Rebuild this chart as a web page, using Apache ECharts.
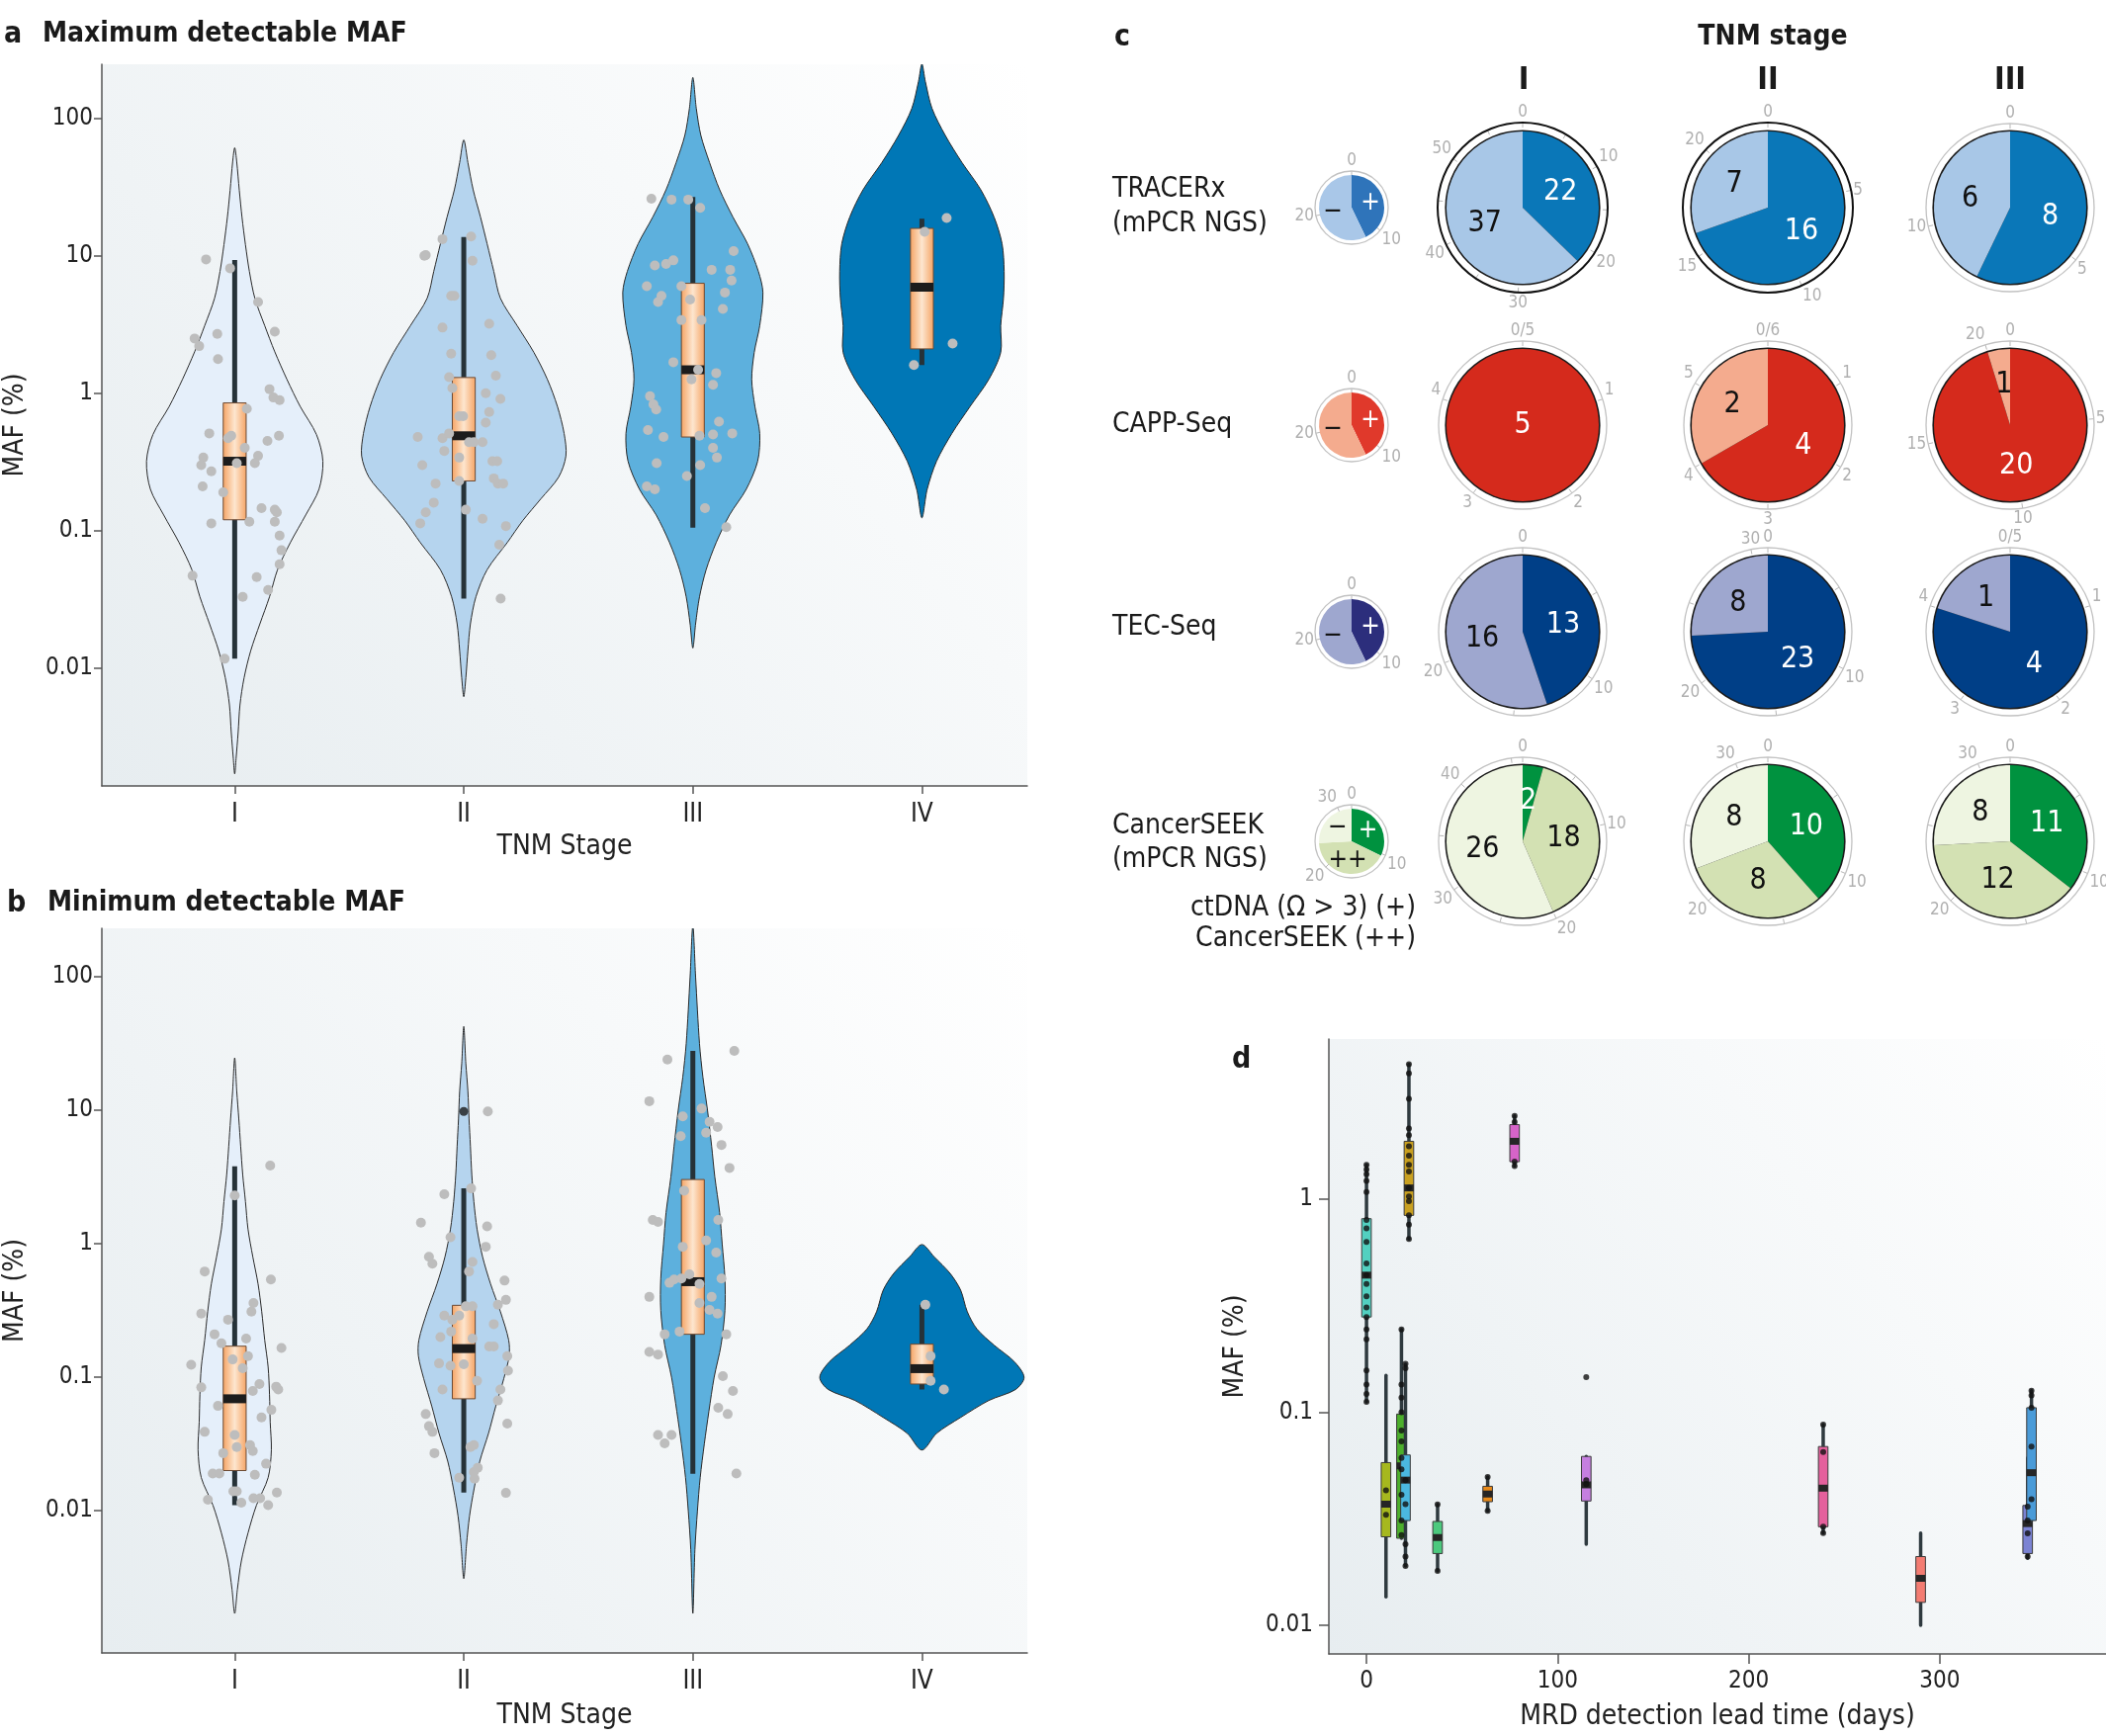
<!DOCTYPE html>
<html>
<head>
<meta charset="utf-8">
<script src="https://cdn.jsdelivr.net/npm/echarts@6/dist/echarts.min.js"></script>
<style>
  html, body { margin: 0; padding: 0; background: #fff; }
  #main { width: 2130px; height: 1756px; }
</style>
</head>
<body>
<div id="main"></div>
<script>
const FONT = '"Liberation Sans Narrow", "DejaVu Sans Condensed", sans-serif';
const BOLD = '"DejaVu Sans Condensed", "DejaVu Sans", sans-serif';
const L = Math.log10;

// ---------- panels a / b : MAF by TNM stage ----------
const stages = ['I', 'II', 'III', 'IV'];
const mafTicks = [0.01, 0.1, 1, 10, 100];

// violin outlines, [MAF %, half width in stage units], top to bottom
const violinMaxI = [[61,0],[48,0.009],[30,0.02],[19,0.032],[12,0.047],[7.7,0.064],[4.9,0.088],[3.1,0.131],[2.0,0.175],[1.26,0.228],[0.8,0.286],[0.5,0.357],[0.32,0.385],[0.2,0.368],[0.13,0.31],[0.082,0.243],[0.052,0.187],[0.033,0.152],[0.021,0.11],[0.0134,0.07],[0.0085,0.041],[0.0054,0.023],[0.0034,0.015],[0.0022,0.006],[0.0017,0]];
const violinMaxII = [[69.5,0],[47.6,0.018],[30.2,0.041],[19.1,0.073],[12.2,0.102],[7.7,0.131],[4.9,0.16],[3.1,0.233],[1.98,0.306],[1.26,0.365],[0.8,0.409],[0.51,0.438],[0.35,0.446],[0.245,0.414],[0.17,0.336],[0.118,0.257],[0.082,0.19],[0.052,0.102],[0.033,0.053],[0.021,0.029],[0.0134,0.018],[0.0085,0.009],[0.0062,0]];
const violinMaxIII = [[198,0],[118,0.015],[75,0.035],[47.6,0.073],[30.2,0.117],[19.1,0.175],[12.2,0.239],[7.7,0.286],[5.4,0.306],[3.1,0.292],[1.98,0.268],[1.26,0.257],[0.8,0.271],[0.51,0.292],[0.32,0.283],[0.2,0.233],[0.13,0.16],[0.082,0.102],[0.052,0.058],[0.033,0.029],[0.021,0.012],[0.014,0]];
const violinMaxIV = [[248,0],[185,0.015],[118,0.044],[75,0.102],[47.6,0.175],[30.2,0.257],[19.1,0.315],[12.2,0.35],[7.7,0.359],[4.9,0.356],[3.1,0.344],[1.98,0.344],[1.26,0.292],[0.8,0.21],[0.51,0.131],[0.32,0.064],[0.2,0.023],[0.124,0]];

const violinMinI = [[24.7,0],[13.9,0.009],[8.6,0.018],[5.4,0.026],[3.3,0.035],[2.07,0.047],[1.29,0.058],[0.8,0.079],[0.5,0.102],[0.31,0.118],[0.19,0.131],[0.119,0.146],[0.074,0.152],[0.046,0.155],[0.0285,0.16],[0.0177,0.146],[0.011,0.095],[0.0068,0.058],[0.0042,0.029],[0.0026,0.012],[0.0017,0]];
const violinMinII = [[42.5,0],[22.4,0.009],[13.9,0.018],[8.6,0.023],[5.4,0.029],[3.3,0.035],[2.07,0.044],[1.29,0.058],[0.8,0.082],[0.5,0.117],[0.31,0.16],[0.19,0.196],[0.144,0.198],[0.098,0.175],[0.061,0.14],[0.038,0.108],[0.0235,0.07],[0.0146,0.045],[0.0091,0.025],[0.0056,0.012],[0.0031,0]];
const violinMinIII = [[243,0],[100,0.012],[31.6,0.029],[17.7,0.044],[10,0.064],[5.4,0.082],[3.16,0.096],[1.71,0.117],[1,0.128],[0.55,0.14],[0.316,0.14],[0.174,0.123],[0.1,0.093],[0.0555,0.07],[0.0316,0.05],[0.0177,0.032],[0.01,0.02],[0.0051,0.009],[0.0017,0]];
const violinMinIV = [[0.987,0],[0.8,0.053],[0.6,0.123],[0.45,0.169],[0.31,0.198],[0.23,0.24],[0.174,0.315],[0.131,0.403],[0.1,0.446],[0.081,0.409],[0.067,0.292],[0.05,0.169],[0.038,0.064],[0.0285,0]];

// box plots [low whisker, q1, median, q3, high whisker]
const boxMax = [[0.0117,0.12,0.32,0.85,9.3],[0.032,0.23,0.49,1.3,13.7],[0.105,0.48,1.48,6.3,26.8],[1.6,2.1,5.9,15.8,18.6]];
const boxMin = [[0.011,0.020,0.069,0.171,3.8],[0.0137,0.069,0.164,0.346,2.6],[0.0189,0.21,0.52,3.03,27.9],[0.081,0.089,0.116,0.177,0.35]];
const outliersMin = [[2, 9.8]];

// jittered patients [offset from stage, MAF %]
const jitMaxI = [[-0.125,9.4],[-0.02,8.1],[0.102,4.6],[-0.175,2.5],[-0.155,2.2],[-0.076,2.7],[0.175,2.8],[-0.073,1.77],[0.152,1.07],[0.169,0.93],[0.196,0.89],[0.053,0.77],[-0.111,0.51],[-0.029,0.47],[-0.015,0.49],[0.143,0.45],[0.193,0.49],[-0.137,0.34],[-0.146,0.30],[-0.102,0.27],[0.102,0.35],[0.044,0.40],[0.009,0.31],[0.088,0.31],[-0.14,0.21],[-0.05,0.19],[-0.102,0.113],[0.064,0.116],[0.117,0.146],[0.175,0.142],[0.184,0.136],[0.175,0.116],[0.196,0.092],[0.204,0.072],[0.196,0.057],[-0.184,0.047],[0.096,0.046],[0.146,0.037],[0.035,0.033],[-0.044,0.0117]];
const jitMaxII = [[-0.166,10.1],[-0.172,10],[-0.093,13.2],[0.032,13.8],[0.038,9.2],[-0.055,5.1],[-0.041,5.1],[-0.093,3.0],[0.111,3.2],[-0.055,1.94],[0.12,1.89],[-0.064,1.31],[0.14,1.34],[-0.05,1.09],[0.16,0.91],[0.096,1.0],[0.111,0.73],[-0.003,0.68],[-0.02,0.68],[0.096,0.61],[-0.201,0.48],[-0.093,0.47],[-0.064,0.51],[0.023,0.44],[0.044,0.44],[0.082,0.44],[-0.085,0.38],[-0.02,0.34],[0.125,0.32],[0.146,0.32],[-0.181,0.30],[-0.123,0.22],[-0.02,0.23],[0.131,0.24],[0.149,0.22],[0.172,0.22],[0.009,0.142],[-0.166,0.136],[-0.131,0.16],[0.082,0.122],[-0.19,0.113],[0.184,0.108],[0.155,0.079],[0.161,0.032]];
const jitMaxIII = [[-0.181,26],[-0.093,25.6],[-0.02,25.6],[0.032,22.3],[0.178,10.8],[-0.166,8.5],[-0.117,8.7],[-0.085,9.25],[0.082,7.9],[0.163,7.9],[0.169,6.6],[-0.201,6.0],[-0.137,5.1],[-0.152,4.6],[-0.05,6.0],[-0.012,4.8],[0.14,5.4],[0.131,4.1],[-0.05,3.4],[0.038,3.4],[-0.085,1.68],[0.023,1.48],[0.102,1.40],[-0.006,1.26],[0.088,1.15],[-0.187,0.95],[-0.172,0.83],[-0.16,0.76],[0.114,0.62],[-0.196,0.54],[-0.128,0.48],[0.029,0.49],[0.088,0.50],[0.172,0.51],[0.088,0.40],[0.105,0.34],[0.032,0.30],[-0.158,0.31],[-0.026,0.25],[-0.201,0.21],[-0.166,0.20],[0.053,0.146],[0.146,0.106]];
const jitMaxIV = [[0.108,18.8],[0.012,14.9],[0.134,2.3],[-0.035,1.6]];

const jitMinI = [[0.155,3.85],[0,2.3],[-0.131,0.62],[0.158,0.54],[-0.146,0.30],[-0.029,0.27],[0.082,0.36],[0.073,0.31],[-0.088,0.21],[-0.058,0.18],[0.05,0.195],[0.204,0.166],[-0.19,0.124],[-0.009,0.136],[0.035,0.117],[0.058,0.144],[-0.146,0.084],[0.108,0.089],[0.181,0.085],[0.19,0.081],[0.079,0.079],[-0.073,0.061],[0.16,0.057],[0.117,0.050],[-0.131,0.039],[0,0.037],[-0.05,0.027],[0.009,0.030],[0.067,0.031],[0.079,0.028],[0.137,0.0225],[-0.096,0.019],[-0.067,0.019],[0.088,0.0186],[-0.006,0.014],[0.009,0.014],[0.184,0.0137],[-0.117,0.0121],[0.029,0.0115],[0.082,0.0124],[0.111,0.0124],[0.146,0.011]];
const jitMinII = [[0.105,9.8],[0.032,2.6],[-0.085,2.35],[-0.187,1.44],[0.102,1.35],[-0.058,1.12],[0.096,0.95],[-0.152,0.80],[-0.137,0.71],[0.038,0.73],[0.023,0.62],[0.178,0.53],[0.184,0.38],[0.149,0.35],[0.009,0.34],[0.038,0.34],[-0.085,0.29],[-0.05,0.27],[-0.02,0.29],[0.131,0.25],[-0.102,0.20],[-0.055,0.22],[0.038,0.195],[0.111,0.17],[0.131,0.17],[0.19,0.144],[-0.108,0.127],[-0.058,0.122],[0,0.125],[0.193,0.112],[0.058,0.094],[-0.093,0.081],[0.16,0.081],[0.149,0.067],[-0.166,0.053],[-0.152,0.043],[-0.137,0.039],[0.19,0.045],[-0.128,0.027],[0.044,0.031],[0.029,0.030],[0.061,0.021],[0.044,0.0195],[-0.02,0.0177],[0.047,0.0174],[0.184,0.0136]];
const jitMinIII = [[0.181,27.9],[-0.111,24.0],[-0.19,11.7],[-0.044,9.0],[0.038,10.3],[0.073,8.2],[0.108,7.5],[-0.053,6.4],[0.058,6.8],[0.125,5.5],[0.16,3.7],[-0.038,2.5],[-0.175,1.51],[-0.152,1.46],[0.111,1.51],[-0.044,0.95],[0.058,1.06],[0.102,0.86],[-0.102,0.51],[-0.082,0.54],[-0.05,0.55],[-0.015,0.59],[0.029,0.50],[0.125,0.55],[-0.19,0.40],[0.082,0.40],[0.029,0.36],[0.073,0.32],[0.108,0.30],[-0.123,0.21],[-0.058,0.22],[0.146,0.21],[-0.19,0.155],[-0.152,0.148],[0.131,0.102],[0.175,0.079],[0.111,0.059],[0.152,0.053],[-0.152,0.037],[-0.093,0.037],[-0.123,0.032],[0.19,0.019]];
const jitMinIV = [[0.015,0.35],[0.038,0.144],[0.038,0.094],[0.096,0.081]];

const violinColors = ['#e5effa', '#b5d4ee', '#5db0dd', '#0077b6'];

// ---------- panel c : detection pies ----------
const methods = ['TRACERx', 'CAPP-Seq', 'TEC-Seq', 'CancerSEEK'];
// per row: [legend, stage I, stage II, stage III]; slices clockwise: +, (++), -
const pieValues = [
  [[12, 16], [22, 37], [16, 7], [8, 6]],
  [[12, 16], [5, 0], [4, 2], [20, 1]],
  [[12, 16], [13, 16], [23, 8], [4, 1]],
  [[10, 13, 8], [2, 18, 26], [10, 8, 8], [11, 12, 8]]
];
const ringMax = [[28, 59, 23, 14], [28, 5, 6, 21], [28, 29, 31, 5], [32, 46, 32, 32]];
const ringStep = [[10, 10, 5, 5], [10, 1, 1, 5], [10, 10, 10, 1], [10, 10, 10, 10]];
const legendSymbols = [['+', '\u2212'], ['+', '\u2212'], ['+', '\u2212'], ['+', '++', '\u2212']];
const pieColors = [['#0a77b8', '#a8c7e7'], ['#d52a1c', '#f4ab8e'], ['#003f87', '#9ea7cf'], ['#00923f', '#d3e1b3', '#eef5e1']];
const legendColors = [['#2f74ba', '#a9c7e8'], ['#e0392b', '#f4ab8e'], ['#2c2e7c', '#9ea7cf'], ['#00923f', '#d3e1b3', '#eef5e1']];

// ---------- panel d : MRD lead time ----------
const leadTicks = [0, 100, 200, 300];
const leadDays = [0, 10.2, 18.3, 20.4, 22.2, 37.2, 63.4, 77.5, 115, 239, 290, 346, 348];
const leadBoxes = [[0.112,0.28,0.44,0.81,1.45],[0.0136,0.026,0.037,0.058,0.149],[0.0256,0.0256,0.056,0.098,0.245],[0.019,0.031,0.048,0.063,0.168],[0.65,0.84,1.13,1.87,4.3],[0.018,0.0217,0.0258,0.0307,0.0369],[0.0344,0.038,0.0413,0.0449,0.0496],[1.43,1.5,1.87,2.24,2.46],[0.024,0.0383,0.0456,0.062,0.062],[0.0271,0.029,0.044,0.069,0.0875],[0.01,0.0128,0.0166,0.021,0.0271],[0.0206,0.0217,0.03,0.0365,0.061],[0.031,0.031,0.052,0.105,0.126]];
const leadDots = [
  [1.45,1.38,1.31,1.22,1.08,0.80,0.73,0.63,0.50,0.44,0.40,0.35,0.31,0.28,0.245,0.22,0.157,0.135,0.122,0.112],
  [0.043,0.033],
  [0.245,0.135,0.117,0.1,0.082,0.073,0.061,0.054,0.041,0.031,0.0265],
  [0.169,0.161,0.048,0.037,0.024,0.021,0.019],
  [4.3,3.9,2.96,2.15,2.0,1.77,1.6,1.45,1.35,1.13,1.03,0.98,0.84,0.76,0.65],
  [0.0369,0.018],
  [0.0496,0.0344],
  [2.46,2.3,1.5,1.43],
  [0.048,0.046,0.146],
  [0.0875,0.065,0.029,0.0271],
  [],
  [0.036,0.031,0.027,0.021],
  [0.126,0.12,0.105,0.069,0.039]
];
const leadColors = ['#52d0c0','#a6b81e','#4caf2c','#4bb8e0','#c9a020','#4cc97e','#e88a1a','#d664c8','#c57fe0','#e4609c','#f47c72','#7b83d3','#4a9bd8'];

// ---------- helpers ----------
const bg = new echarts.graphic.LinearGradient(1, 0, 0, 1, [
  { offset: 0, color: '#ffffff' }, { offset: 1, color: '#e7edf0' }
]);
const boxFill = new echarts.graphic.LinearGradient(0, 0, 1, 0, [
  { offset: 0, color: '#f5a363' }, { offset: 0.5, color: '#fde6cf' }, { offset: 1, color: '#f5a363' }
]);

function gridBox(left, top, width, height) {
  return { left, top, width, height, show: true, backgroundColor: bg, borderWidth: 0, outerBoundsMode: 'none' };
}

function mafAxis(gridIndex, min, max, ticks, nameGap, margin, tickLen) {
  const vals = ticks.map(L);
  return {
    type: 'value', gridIndex, min: L(min), max: L(max),
    name: 'MAF (%)', nameLocation: 'middle', nameGap, nameRotate: 90,
    nameTextStyle: { fontSize: 28, color: '#222', fontFamily: FONT },
    axisLine: { show: true, onZero: false, lineStyle: { color: '#555', width: 1.5 } },
    axisTick: { show: true, length: tickLen, customValues: vals, lineStyle: { color: '#555', width: 1.5 } },
    axisLabel: { customValues: vals, margin, fontSize: 24, color: '#222', fontFamily: FONT,
      formatter: v => String(+Math.pow(10, v).toPrecision(2)) },
    splitLine: { show: false }
  };
}

function stageAxis(gridIndex, nameGap) {
  const vals = [1, 2, 3, 4];
  return {
    type: 'value', gridIndex, min: 0.42, max: 4.46,
    name: 'TNM Stage', nameLocation: 'middle', nameGap,
    nameTextStyle: { fontSize: 28, color: '#222', fontFamily: FONT },
    axisLine: { show: true, onZero: false, lineStyle: { color: '#555', width: 1.5 } },
    axisTick: { show: true, length: 8, customValues: vals, lineStyle: { color: '#555', width: 1.5 } },
    axisLabel: { customValues: vals, margin: 16, fontSize: 26, color: '#222', fontFamily: FONT,
      formatter: v => stages[v - 1] },
    splitLine: { show: false }
  };
}

function violinSeries(axis, profiles) {
  return {
    type: 'custom', xAxisIndex: axis, yAxisIndex: axis, clip: true, silent: true, z: 1,
    data: profiles.map((p, i) => [i + 1, 0]), encode: { x: 0, y: 1 },
    renderItem: (params, api) => {
      const i = params.dataIndex, x = i + 1, prof = profiles[i];
      const right = prof.map(([m, w]) => api.coord([x + w, L(m)]));
      const left = prof.slice(1, -1).reverse().map(([m, w]) => api.coord([x - w, L(m)]));
      return {
        type: 'polygon', shape: { points: right.concat(left), smooth: 0.3 },
        style: { fill: violinColors[i], stroke: '#2a2a2a', lineWidth: 1 }
      };
    }
  };
}

function stageBoxSeries(axis, boxes) {
  return {
    type: 'custom', xAxisIndex: axis, yAxisIndex: axis, clip: true, silent: true, z: 3,
    data: boxes.map((b, i) => [i + 1, L(b[2])]), encode: { x: 0, y: 1 },
    renderItem: (params, api) => {
      const i = params.dataIndex, x = i + 1, [lo, q1, med, q3, hi] = boxes[i], hw = 0.05;
      const a = api.coord([x, L(lo)]), b = api.coord([x, L(hi)]);
      const tl = api.coord([x - hw, L(q3)]), br = api.coord([x + hw, L(q1)]);
      const m1 = api.coord([x - hw, L(med)]), m2 = api.coord([x + hw, L(med)]);
      return { type: 'group', children: [
        { type: 'line', shape: { x1: a[0], y1: a[1], x2: b[0], y2: b[1] }, style: { stroke: '#263238', lineWidth: 5 } },
        { type: 'rect', shape: { x: tl[0], y: tl[1], width: br[0] - tl[0], height: br[1] - tl[1] }, style: { fill: boxFill, stroke: '#6b4a34', lineWidth: 1 } },
        { type: 'line', shape: { x1: m1[0], y1: m1[1], x2: m2[0], y2: m2[1] }, style: { stroke: '#1c1c1c', lineWidth: 9 } }
      ]};
    }
  };
}

function jitterSeries(axis, groups) {
  const data = [];
  groups.forEach((g, i) => g.forEach(([dx, m]) => data.push([i + 1 + dx, L(m)])));
  return {
    type: 'scatter', xAxisIndex: axis, yAxisIndex: axis, silent: true, z: 4,
    symbolSize: 10, itemStyle: { color: '#bdbdbd', opacity: 1 }, data
  };
}

// ---------- panel c build ----------
const colX = [1367, 1540, 1788, 2033];
const rowY = [210, 430, 639, 851];
const polar = [], angleAxis = [], radiusAxis = [], pieSeries = [];
methods.forEach((m, r) => {
  for (let c = 0; c < 4; c++) {
    const k = r * 4 + c, legend = c === 0;
    const blackRing = r === 0 && (c === 1 || c === 2);
    const R = legend ? 37 : (blackRing ? 86 : 85), pr = legend ? 33 : 77;
    const center = [colX[c], rowY[r]];
    const max = ringMax[r][c], step = ringStep[r][c];
    polar.push({ center, radius: [0, R] });
    angleAxis.push({
      polarIndex: k, type: 'value', min: 0, max, interval: step, startAngle: 90, clockwise: true, silent: true,
      axisLine: { show: true, lineStyle: { color: blackRing ? '#111' : '#c2c2c2', width: blackRing ? 2 : 1.3 } },
      axisTick: { show: true, inside: true, length: 5, lineStyle: { color: '#b8b8b8', width: 1 } },
      minorTick: { show: !legend && step === 10, splitNumber: 2, length: 5, lineStyle: { color: '#b8b8b8', width: 1 } },
      axisLabel: { show: true, margin: 2, color: '#b0b0b0', fontSize: 17, fontFamily: FONT,
        formatter: v => (v === 0 && max % step === 0) ? '0/' + max : String(v) },
      splitLine: { show: false }
    });
    radiusAxis.push({ polarIndex: k, type: 'value', min: 0, max: 1, show: false });
    if (!legend) {
      pieSeries.push({
        type: 'pie', center, radius: [0, pr + 1.6], silent: true, z: 2,
        label: { show: false }, labelLine: { show: false },
        itemStyle: { borderWidth: 0 }, data: [{ value: 1, itemStyle: { color: '#1b1b1b' } }]
      });
    }
    const vals = pieValues[r][c];
    const cols = legend ? legendColors[r] : pieColors[r];
    const data = [];
    vals.forEach((v, j) => {
      if (v <= 0) return;
      data.push({
        name: legend ? legendSymbols[r][j] : String(v), value: v,
        itemStyle: { color: cols[j] },
        label: { color: j === 0 ? '#ffffff' : '#111111' }
      });
    });
    if (data.length === 1) data[0].label.position = 'center';
    pieSeries.push({
      type: 'pie', center, radius: [0, pr], startAngle: 90, clockwise: true, silent: true, z: 3,
      avoidLabelOverlap: false,
      label: { show: true, position: 'inside', formatter: '{b}', fontSize: legend ? 26 : 30, fontFamily: FONT },
      labelLine: { show: false }, itemStyle: { borderWidth: 0 }, data
    });
  }
});

// ---------- panel d build ----------
const leadBoxSeries = {
  type: 'custom', xAxisIndex: 2, yAxisIndex: 2, clip: true, silent: true, z: 3,
  data: leadDays.map((d, i) => [d, L(leadBoxes[i][2])]), encode: { x: 0, y: 1 },
  renderItem: (params, api) => {
    const i = params.dataIndex, x = leadDays[i], [lo, q1, med, q3, hi] = leadBoxes[i], hw = 2.5;
    const a = api.coord([x, L(lo)]), b = api.coord([x, L(hi)]);
    const tl = api.coord([x - hw, L(q3)]), br = api.coord([x + hw, L(q1)]);
    const m1 = api.coord([x - hw, L(med)]), m2 = api.coord([x + hw, L(med)]);
    return { type: 'group', children: [
      { type: 'line', shape: { x1: a[0], y1: a[1], x2: b[0], y2: b[1] }, style: { stroke: '#2f3a3f', lineWidth: 3.5, lineCap: 'round' } },
      { type: 'rect', shape: { x: tl[0], y: tl[1], width: br[0] - tl[0], height: Math.max(br[1] - tl[1], 1) }, style: { fill: leadColors[i], stroke: '#3a3a3a', lineWidth: 1 } },
      { type: 'line', shape: { x1: m1[0], y1: m1[1], x2: m2[0], y2: m2[1] }, style: { stroke: '#262626', lineWidth: 7 } }
    ]};
  }
};
const leadDotData = [];
leadDots.forEach((g, i) => g.forEach(m => leadDotData.push([leadDays[i], L(m)])));

// ---------- text ----------
function txt(text, x, y, opts) {
  opts = opts || {};
  return { type: 'text', x, y, silent: true, z: 10, style: {
    text, fill: opts.fill || '#1a1a1a',
    font: (opts.bold ? 'bold ' : '') + (opts.size || 28) + 'px ' + (opts.bold ? BOLD : FONT),
    textAlign: opts.align || 'left', textVerticalAlign: 'middle'
  }};
}
const texts = [
  txt('a', 4, 35, { bold: true, size: 30 }),
  txt('Maximum detectable MAF', 43, 35, { bold: true, size: 28 }),
  txt('b', 7, 914, { bold: true, size: 30 }),
  txt('Minimum detectable MAF', 48, 914, { bold: true, size: 28 }),
  txt('c', 1127, 38, { bold: true, size: 30 }),
  txt('TNM stage', 1793, 38, { bold: true, size: 28, align: 'center' }),
  txt('I', 1541, 82, { bold: true, size: 32, align: 'center' }),
  txt('II', 1788, 82, { bold: true, size: 32, align: 'center' }),
  txt('III', 2033, 82, { bold: true, size: 32, align: 'center' }),
  txt('TRACERx', 1125, 192),
  txt('(mPCR NGS)', 1125, 227),
  txt('CAPP-Seq', 1125, 430),
  txt('TEC-Seq', 1125, 635),
  txt('CancerSEEK', 1125, 836),
  txt('(mPCR NGS)', 1125, 870),
  txt('ctDNA (\u03A9 > 3) (+)', 1432, 919, { align: 'right' }),
  txt('CancerSEEK (++)', 1432, 950, { align: 'right' }),
  txt('d', 1246, 1072, { bold: true, size: 30 })
];

const option = {
  animation: false,
  backgroundColor: '#ffffff',
  grid: [gridBox(103, 65, 936, 730), gridBox(103, 939, 936, 733), gridBox(1344, 1051, 786, 622)],
  xAxis: [
    stageAxis(0, 48),
    stageAxis(1, 50),
    {
      type: 'value', gridIndex: 2, min: -19.7, max: 387,
      name: 'MRD detection lead time (days)', nameLocation: 'middle', nameGap: 50,
      nameTextStyle: { fontSize: 28, color: '#222', fontFamily: FONT },
      axisLine: { show: true, onZero: false, lineStyle: { color: '#555', width: 1.5 } },
      axisTick: { show: true, length: 10, customValues: leadTicks, lineStyle: { color: '#555', width: 1.5 } },
      axisLabel: { customValues: leadTicks, margin: 16, fontSize: 24, color: '#222', fontFamily: FONT },
      splitLine: { show: false }
    }
  ],
  yAxis: [
    mafAxis(0, 0.00139, 247, mafTicks, 73, 9, 8),
    mafAxis(1, 0.00086, 231, mafTicks, 73, 9, 8),
    mafAxis(2, 0.00733, 5.65, [0.01, 0.1, 1], 80, 16, 10)
  ],
  polar, angleAxis, radiusAxis,
  graphic: texts,
  series: [
    violinSeries(0, [violinMaxI, violinMaxII, violinMaxIII, violinMaxIV]),
    stageBoxSeries(0, boxMax),
    jitterSeries(0, [jitMaxI, jitMaxII, jitMaxIII, jitMaxIV]),
    violinSeries(1, [violinMinI, violinMinII, violinMinIII, violinMinIV]),
    stageBoxSeries(1, boxMin),
    jitterSeries(1, [jitMinI, jitMinII, jitMinIII, jitMinIV]),
    {
      type: 'scatter', xAxisIndex: 1, yAxisIndex: 1, silent: true, z: 5, symbolSize: 9,
      itemStyle: { color: '#1a1a1a' }, data: outliersMin.map(([s, m]) => [s, L(m)])
    },
    leadBoxSeries,
    {
      type: 'scatter', xAxisIndex: 2, yAxisIndex: 2, silent: true, z: 5, symbolSize: 6,
      itemStyle: { color: '#111111' }, data: leadDotData
    }
  ].concat(pieSeries)
};

const chart = echarts.init(document.getElementById('main'), null, { renderer: 'canvas' });
chart.setOption(option);
</script>
</body>
</html>
